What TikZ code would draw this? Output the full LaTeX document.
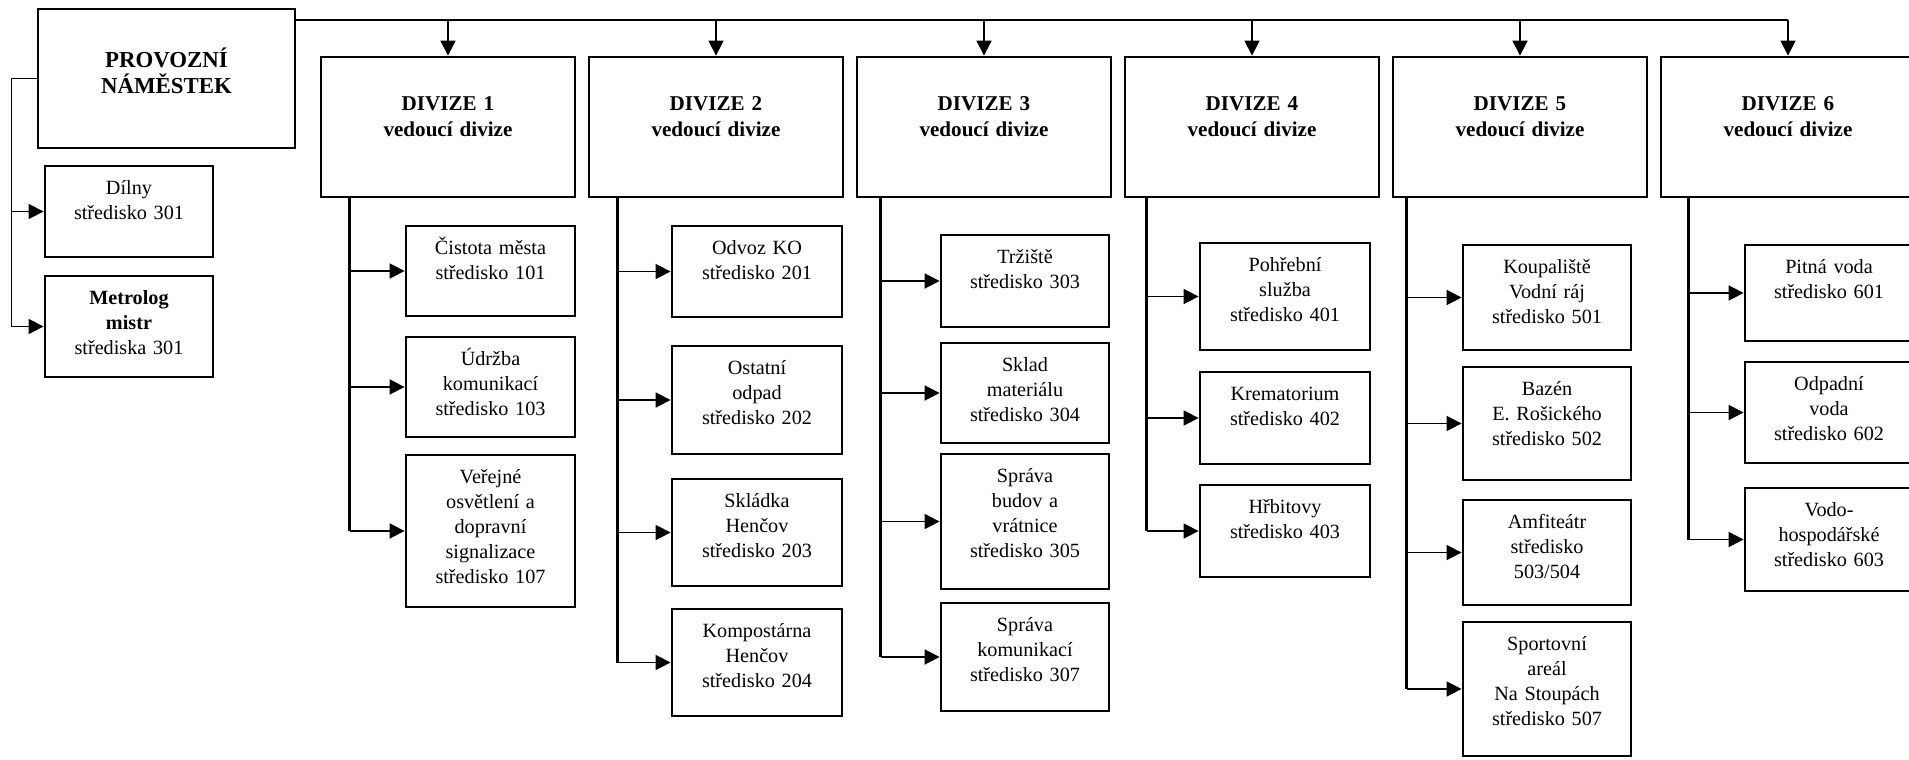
\documentclass[tikz,border=0pt]{standalone}
\usepackage{fontspec}
\setmainfont{Liberation Serif}
\usetikzlibrary{arrows.meta}

\begin{document}
\begin{tikzpicture}
	[x=0.02cm, y=-0.02cm,
	every node/.style={font=\fontsize{11.5}{14.2}\selectfont},
	box/.style={draw, line width=1.6pt, inner xsep=4pt, inner ysep=4pt, align=center, text height=12.2pt},
	bw/.style={minimum width=#1*0.02cm, text width={#1*0.02cm-8pt}},
	bh/.style={minimum height=#1*0.02cm, text depth={#1*0.02cm-20.2pt}},
	divbox/.style={box, bw=254, font=\fontsize{12}{14.5}\selectfont\bfseries, text height=26.7pt, minimum height=140*0.02cm, text depth={140*0.02cm-34.7pt}},
	mainbox/.style={box, bw=257, font=\fontsize{13}{14.5}\selectfont\bfseries, text height=29.4pt, minimum height=139*0.02cm, text depth={139*0.02cm-37.4pt}},
	arr/.style={-{Triangle[length=8.5pt,width=8.5pt]}, line width=0.9pt},
	bus/.style={line width=1.1pt},
	trunk/.style={line width=1.7pt}]
	\useasboundingbox (0,0) rectangle (1909,760);

	\node[mainbox] (main) at (166.5,78.5) {PROVOZNÍ\\NÁMĚSTEK};
	\node[box, bw=168, bh=91] (dilny) at (129,211.5) {Dílny\\středisko 301};
	\node[box, bw=168, bh=101] (metro) at (129,326.5) {\textbf{Metrolog}\\\textbf{mistr}\\střediska 301};

	\node[divbox] (div1) at (448,127) {DIVIZE 1\\vedoucí divize};
	\node[divbox] (div2) at (716,127) {DIVIZE 2\\vedoucí divize};
	\node[divbox] (div3) at (984,127) {DIVIZE 3\\vedoucí divize};
	\node[divbox] (div4) at (1252,127) {DIVIZE 4\\vedoucí divize};
	\node[divbox] (div5) at (1520,127) {DIVIZE 5\\vedoucí divize};
	\node[divbox] (div6) at (1788,127) {DIVIZE 6\\vedoucí divize};

	\node[box, bw=169, bh=90] (c101) at (490.5,271) {Čistota města\\středisko 101};
	\node[box, bw=169, bh=100] (c103) at (490.5,387) {Údržba\\komunikací\\středisko 103};
	\node[box, bw=169, bh=152] (c107) at (490.5,531) {Veřejné\\osvětlení a\\dopravní\\signalizace\\středisko 107};

	\node[box, bw=170, bh=91] (c201) at (757,271.5) {Odvoz KO\\středisko 201};
	\node[box, bw=170, bh=108] (c202) at (757,400) {Ostatní\\odpad\\středisko 202};
	\node[box, bw=170, bh=107] (c203) at (757,532.5) {Skládka\\Henčov\\středisko 203};
	\node[box, bw=170, bh=107] (c204) at (757,662.5) {Kompostárna\\Henčov\\středisko 204};

	\node[box, bw=168, bh=92] (c303) at (1025,281) {Tržiště\\středisko 303};
	\node[box, bw=168, bh=100] (c304) at (1025,393) {Sklad\\materiálu\\středisko 304};
	\node[box, bw=168, bh=135] (c305) at (1025,521.5) {Správa\\budov a\\vrátnice\\středisko 305};
	\node[box, bw=168, bh=108] (c307) at (1025,657) {Správa\\komunikací\\středisko 307};

	\node[box, bw=170, bh=107] (c401) at (1285,296.5) {Pohřební\\služba\\středisko 401};
	\node[box, bw=170, bh=92] (c402) at (1285,418) {Krematorium\\středisko 402};
	\node[box, bw=170, bh=92] (c403) at (1285,531) {Hřbitovy\\středisko 403};

	\node[box, bw=168, bh=105] (c501) at (1547,297.5) {Koupaliště\\Vodní ráj\\středisko 501};
	\node[box, bw=168, bh=113] (c502) at (1547,423.5) {Bazén\\E. Rošického\\středisko 502};
	\node[box, bw=168, bh=105] (c503) at (1547,552.5) {Amfiteátr\\středisko\\503/504};
	\node[box, bw=168, bh=134] (c507) at (1547,689) {Sportovní\\areál\\Na Stoupách\\středisko 507};

	\node[box, bw=168, bh=96] (c601) at (1829,293) {Pitná voda\\středisko 601};
	\node[box, bw=168, bh=101] (c602) at (1829,412.5) {Odpadní\\voda\\středisko 602};
	\node[box, bw=168, bh=103] (c603) at (1829,539.5) {Vodo-\\hospodářské\\středisko 603};

	\draw[bus] (main.north east) ++(0,12) coordinate (bus) -- (bus -| div6.north);
	\draw[arr] (bus -| div1.north) -- (div1.north);
	\draw[arr] (bus -| div2.north) -- (div2.north);
	\draw[arr] (bus -| div3.north) -- (div3.north);
	\draw[arr] (bus -| div4.north) -- (div4.north);
	\draw[arr] (bus -| div5.north) -- (div5.north);
	\draw[arr] (bus -| div6.north) -- (div6.north);

	\draw[arr] (main.west) -- ++(-25,0) coordinate (br) |- (dilny.west);
	\draw[arr] (br) |- (metro.west);

	\draw[trunk] (div1.south west) ++(30,0) coordinate (t1) -- (t1 |- c107.west);
	\draw[arr] (t1 |- c101.west) -- (c101.west);
	\draw[arr] (t1 |- c103.west) -- (c103.west);
	\draw[arr] (t1 |- c107.west) -- (c107.west);

	\draw[trunk] (div2.south west) ++(30,0) coordinate (t2) -- (t2 |- c204.west);
	\draw[arr] (t2 |- c201.west) -- (c201.west);
	\draw[arr] (t2 |- c202.west) -- (c202.west);
	\draw[arr] (t2 |- c203.west) -- (c203.west);
	\draw[arr] (t2 |- c204.west) -- (c204.west);

	\draw[trunk] (div3.south west) ++(25,0) coordinate (t3) -- (t3 |- c307.west);
	\draw[arr] (t3 |- c303.west) -- (c303.west);
	\draw[arr] (t3 |- c304.west) -- (c304.west);
	\draw[arr] (t3 |- c305.west) -- (c305.west);
	\draw[arr] (t3 |- c307.west) -- (c307.west);

	\draw[trunk] (div4.south west) ++(23,0) coordinate (t4) -- (t4 |- c403.west);
	\draw[arr] (t4 |- c401.west) -- (c401.west);
	\draw[arr] (t4 |- c402.west) -- (c402.west);
	\draw[arr] (t4 |- c403.west) -- (c403.west);

	\draw[trunk] (div5.south west) ++(15,0) coordinate (t5) -- (t5 |- c507.west);
	\draw[arr] (t5 |- c501.west) -- (c501.west);
	\draw[arr] (t5 |- c502.west) -- (c502.west);
	\draw[arr] (t5 |- c503.west) -- (c503.west);
	\draw[arr] (t5 |- c507.west) -- (c507.west);

	\draw[trunk] (div6.south west) ++(29,0) coordinate (t6) -- (t6 |- c603.west);
	\draw[arr] (t6 |- c601.west) -- (c601.west);
	\draw[arr] (t6 |- c602.west) -- (c602.west);
	\draw[arr] (t6 |- c603.west) -- (c603.west);
\end{tikzpicture}
\end{document}
